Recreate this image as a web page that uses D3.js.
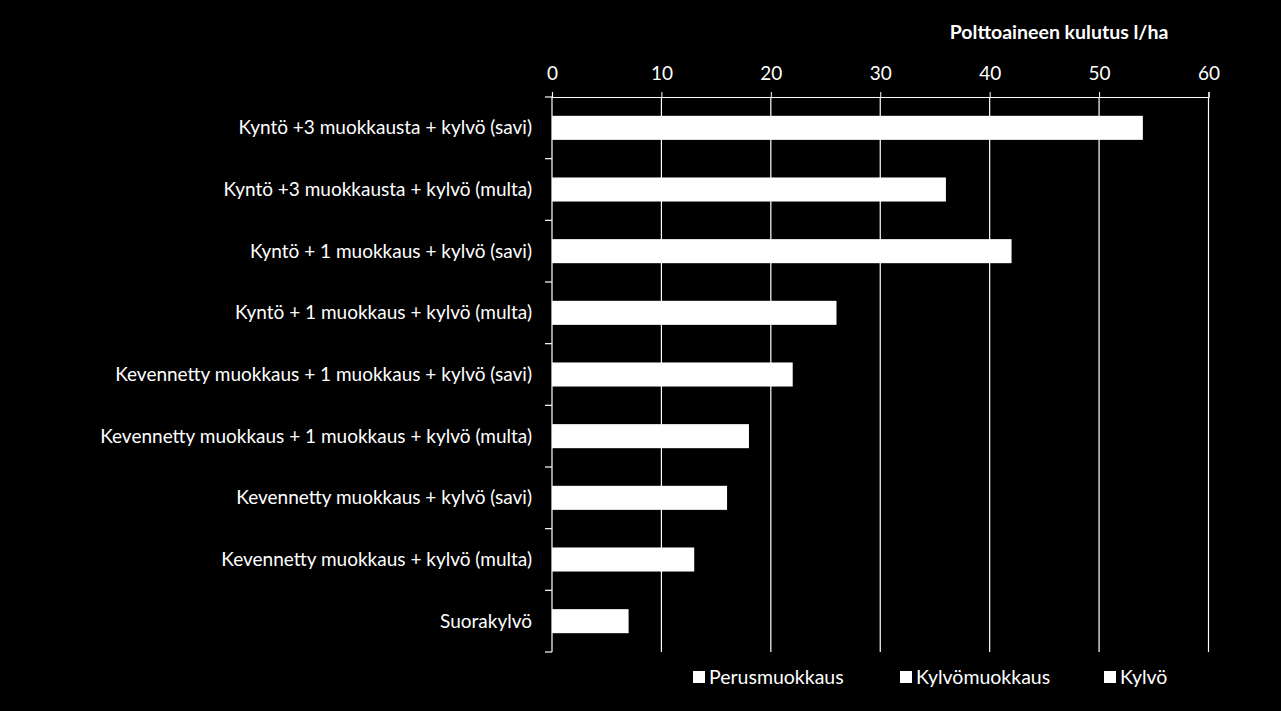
<!DOCTYPE html>
<html>
<head>
<meta charset="utf-8">
<script src="https://cdn.jsdelivr.net/npm/d3@7"></script>
<style>
  html, body { margin: 0; padding: 0; background: #000; }
  text { font-family: Lato, "Open Sans", sans-serif; fill: #fff; }
</style>
</head>
<body>
<div id="chart"></div>
<script>
// categories top to bottom
var categories = [
    "Kyntö +3 muokkausta + kylvö (savi)",
    "Kyntö +3 muokkausta + kylvö (multa)",
    "Kyntö + 1 muokkaus + kylvö (savi)",
    "Kyntö + 1 muokkaus + kylvö (multa)",
    "Kevennetty muokkaus + 1 muokkaus + kylvö (savi)",
    "Kevennetty muokkaus + 1 muokkaus + kylvö (multa)",
    "Kevennetty muokkaus + kylvö (savi)",
    "Kevennetty muokkaus + kylvö (multa)",
    "Suorakylvö"
];
// total fuel use l/ha (segments all drawn white, so only totals readable)
var totals = [54, 36, 42, 26, 22, 18, 16, 13, 7];
var xTicks = [0, 10, 20, 30, 40, 50, 60];
var legendNames = ["Perusmuokkaus", "Kylvömuokkaus", "Kylvö"];
var axisTitle = "Polttoaineen kulutus l/ha";

var margin = {top: 97, right: 72, bottom: 59, left: 552},
    W = 1281, H = 711,
    width = W - margin.left - margin.right,
    height = H - margin.top - margin.bottom;

var svg = d3.select("#chart").append("svg")
    .attr("width", W)
    .attr("height", H)
    .style("background", "#000");

var g = svg.append("g")
    .attr("transform", "translate(" + margin.left + "," + margin.top + ")");

var x = d3.scaleLinear().domain([0, 60]).range([0, width - 0.5]);
var y = d3.scaleBand().domain(categories).range([0, height]).paddingInner(0.61).paddingOuter(0.305);

// vertical gridlines
g.selectAll(".grid")
    .data(xTicks.slice(1))
    .enter().append("line")
    .attr("x1", function(d) { return x(d); })
    .attr("x2", function(d) { return x(d); })
    .attr("y1", 0)
    .attr("y2", height)
    .attr("stroke", "#fff")
    .attr("stroke-width", 1.2);

// top axis
var xAxis = d3.axisTop(x).tickValues(xTicks).tickSize(5).tickPadding(12);
var ax = g.append("g").call(xAxis);
ax.select(".domain").attr("stroke", "#fff").attr("stroke-width", 1.2);
ax.selectAll(".tick line").attr("stroke", "#fff");
ax.selectAll(".tick text")
    .attr("fill", "#fff")
    .style("font-size", "19px")
    .style("font-family", "Lato, sans-serif");

// left axis with ticks at category boundaries
var bounds = d3.range(categories.length + 1).map(function(i) { return i * height / categories.length; });
g.append("line")
    .attr("x1", 0).attr("x2", 0)
    .attr("y1", 0).attr("y2", height)
    .attr("stroke", "#fff").attr("stroke-width", 1.2);
g.selectAll(".ytick")
    .data(bounds)
    .enter().append("line")
    .attr("x1", -7).attr("x2", 0)
    .attr("y1", function(d) { return d; })
    .attr("y2", function(d) { return d; })
    .attr("stroke", "#fff").attr("stroke-width", 1.2);

// bars
g.selectAll(".bar")
    .data(categories)
    .enter().append("rect")
    .attr("class", "bar")
    .attr("x", 0)
    .attr("y", function(d) { return y(d); })
    .attr("width", function(d, i) { return x(totals[i]); })
    .attr("height", y.bandwidth())
    .attr("fill", "#fff");

// category labels
g.selectAll(".cat")
    .data(categories)
    .enter().append("text")
    .attr("x", -20)
    .attr("y", function(d) { return y(d) + y.bandwidth() / 2; })
    .attr("dy", ".35em")
    .style("text-anchor", "end")
    .style("font-size", "19px")
    .text(function(d) { return d; });

// axis title
svg.append("text")
    .attr("x", 1059)
    .attr("y", 39)
    .style("text-anchor", "middle")
    .style("font-size", "19.5px")
    .style("font-weight", "bold")
    .text(axisTitle);

// legend
var legendX = [693, 900, 1104];
var lg = svg.selectAll(".legend")
    .data(legendNames)
    .enter().append("g")
    .attr("transform", function(d, i) { return "translate(" + legendX[i] + ",677)"; });
lg.append("rect")
    .attr("x", 0).attr("y", -6)
    .attr("width", 12).attr("height", 12)
    .attr("fill", "#fff");
lg.append("text")
    .attr("x", 16)
    .attr("dy", ".35em")
    .style("font-size", "19.5px")
    .text(function(d) { return d; });
</script>
</body>
</html>
